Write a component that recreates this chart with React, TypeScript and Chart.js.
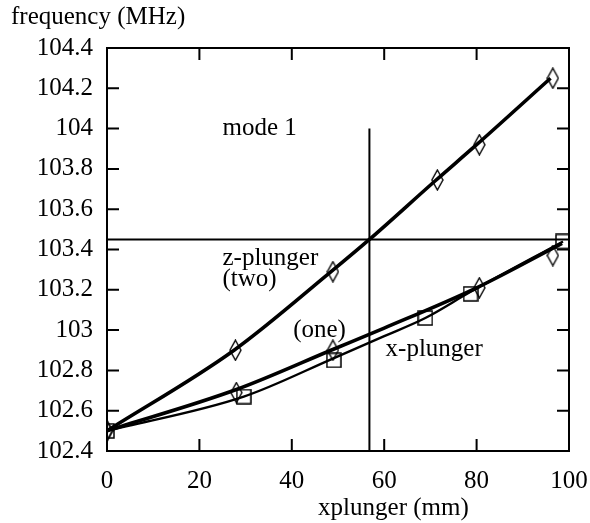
import React, { useEffect, useRef } from "react";
import { Chart, registerables } from "chart.js";

Chart.register(...registerables);

// ---- data ----
const X_TICKS = [0, 20, 40, 60, 80, 100];
const X_TICK_LABELS = ["0", "20", "40", "60", "80", "100"];
const Y_TICKS = [102.4, 102.6, 102.8, 103, 103.2, 103.4, 103.6, 103.8, 104, 104.2, 104.4];
const Y_TICK_LABELS = ["102.4", "102.6", "102.8", "103", "103.2", "103.4", "103.6", "103.8", "104", "104.2", "104.4"];

// z-plunger measured points (diamonds, upper curve)
const Z_PTS_X = [0, 27.8, 48.9, 71.5, 80.6, 96.5];
const Z_PTS_Y = [102.5, 102.9, 103.29, 103.745, 103.92, 104.25];
// lower diamonds
const ONE_PTS_X = [0, 28, 48.9, 80.6, 96.5];
const ONE_PTS_Y = [102.5, 102.69, 102.9, 103.21, 103.37];
// x-plunger squares
const XP_PTS_X = [0, 29.6, 49.1, 68.9, 78.7, 98.7];
const XP_PTS_Y = [102.5, 102.67, 102.85, 103.06, 103.18, 103.44];

// fitted curves
const Z_FIT_X = [0, 27.5, 48.5, 56.8, 71, 80, 96];
const Z_FIT_Y = [102.5, 102.9, 103.29, 103.45, 103.74, 103.92, 104.25];
const ONE_FIT_X = [0, 28, 49, 60, 80, 98.5];
const ONE_FIT_Y = [102.5, 102.705, 102.905, 103.01, 103.21, 103.43];
const XP_FIT_X = [0, 29.6, 49, 60, 68.9, 78.7, 98.7];
const XP_FIT_Y = [102.5, 102.67, 102.86, 102.97, 103.06, 103.19, 103.44];

// reference cross lines
const H_LINE_X = [0, 100];
const H_LINE_Y = [103.45, 103.45];
const V_LINE_X = [56.8, 56.8];
const V_LINE_Y = [102.4, 104.0];

// annotations (data coordinates)
const NOTE_TEXT = ["mode 1", "z-plunger", "(two)", "(one)", "x-plunger"];
const NOTE_X = [25, 25, 25, 40.3, 60.3];
const NOTE_Y = [104.0, 103.355, 103.25, 103.0, 102.905];

const Y_TITLE = "frequency (MHz)";
const X_TITLE = "xplunger (mm)";
const X_TITLE_AT = 62;

const FONT_FAMILY = "'Liberation Serif', 'Times New Roman', serif";
const FONT_SIZE = 25;

const zip = (xs: number[], ys: number[]) => xs.map((x, i) => ({ x, y: ys[i] }));

function makeDiamond(): HTMLCanvasElement {
  const c = document.createElement("canvas");
  c.width = 13;
  c.height = 22;
  const g = c.getContext("2d")!;
  g.strokeStyle = "#000";
  g.lineWidth = 1.4;
  g.beginPath();
  g.moveTo(6.5, 1);
  g.lineTo(12, 11);
  g.lineTo(6.5, 21);
  g.lineTo(1, 11);
  g.closePath();
  g.stroke();
  return c;
}

function makeSquare(): HTMLCanvasElement {
  const c = document.createElement("canvas");
  c.width = 16;
  c.height = 16;
  const g = c.getContext("2d")!;
  g.strokeStyle = "#000";
  g.lineWidth = 1.5;
  g.strokeRect(1, 1, 14, 14);
  return c;
}

const framePlugin = {
  id: "frame",
  afterDatasetsDraw(chart: any) {
    const { ctx, chartArea, scales } = chart;
    const { left, right, top, bottom } = chartArea;
    const xs = scales.x;
    const ys = scales.y;
    ctx.save();
    ctx.strokeStyle = "#000";
    ctx.lineWidth = 2;
    ctx.strokeRect(left, top, right - left, bottom - top);
    const TL = 12;
    ctx.beginPath();
    X_TICKS.forEach((v) => {
      const px = xs.getPixelForValue(v);
      ctx.moveTo(px, bottom);
      ctx.lineTo(px, bottom - TL);
      ctx.moveTo(px, top);
      ctx.lineTo(px, top + TL);
    });
    Y_TICKS.forEach((v) => {
      const py = ys.getPixelForValue(v);
      ctx.moveTo(left, py);
      ctx.lineTo(left + TL, py);
      ctx.moveTo(right, py);
      ctx.lineTo(right - TL, py);
    });
    ctx.stroke();

    ctx.fillStyle = "#000";
    ctx.font = `${FONT_SIZE}px ${FONT_FAMILY}`;
    ctx.textAlign = "left";
    ctx.textBaseline = "middle";
    NOTE_TEXT.forEach((t, i) => {
      ctx.fillText(t, xs.getPixelForValue(NOTE_X[i]), ys.getPixelForValue(NOTE_Y[i]));
    });
    // y axis title, horizontal, top-left
    ctx.fillText(Y_TITLE, left - 96, top - 31);
    // x axis title
    ctx.textAlign = "center";
    ctx.fillText(X_TITLE, xs.getPixelForValue(X_TITLE_AT), bottom + 57);
    ctx.restore();
  },
};

export default function App() {
  const ref = useRef<HTMLCanvasElement>(null);

  useEffect(() => {
    const canvas = ref.current!;
    const diamond = makeDiamond();
    const square = makeSquare();
    const lineDs = (data: any[], width: number) => ({
      data,
      showLine: true,
      borderColor: "#000",
      borderWidth: width,
      pointRadius: 0,
      pointHoverRadius: 0,
      cubicInterpolationMode: "monotone" as const,
      fill: false,
    });
    const ptDs = (data: any[], style: HTMLCanvasElement) => ({
      data,
      showLine: false,
      pointStyle: style,
      pointRadius: 8,
      borderColor: "#000",
      backgroundColor: "transparent",
    });

    const chart = new Chart(canvas, {
      type: "scatter",
      data: {
        datasets: [
          lineDs(zip(Z_FIT_X, Z_FIT_Y), 3.6),
          lineDs(zip(ONE_FIT_X, ONE_FIT_Y), 3.6),
          lineDs(zip(XP_FIT_X, XP_FIT_Y), 2.4),
          lineDs(zip(H_LINE_X, H_LINE_Y), 2),
          lineDs(zip(V_LINE_X, V_LINE_Y), 2),
          ptDs(zip(Z_PTS_X, Z_PTS_Y), diamond),
          ptDs(zip(ONE_PTS_X, ONE_PTS_Y), diamond),
          ptDs(zip(XP_PTS_X, XP_PTS_Y), square),
        ] as any,
      },
      options: {
        animation: false,
        responsive: false,
        devicePixelRatio: 1,
        events: [],
        layout: { padding: { left: 0, right: 21, top: 48, bottom: 0 } },
        plugins: {
          legend: { display: false },
          tooltip: { enabled: false },
          title: { display: false },
        },
        scales: {
          x: {
            type: "linear",
            min: 0,
            max: 100,
            grid: { display: false, drawTicks: false },
            border: { display: false },
            afterBuildTicks: (s: any) => {
              s.ticks = X_TICKS.map((v) => ({ value: v }));
            },
            afterFit: (s: any) => {
              s.height = 72;
              s.paddingLeft = 0;
              s.paddingRight = 0;
            },
            ticks: {
              color: "#000",
              padding: 15,
              maxRotation: 0,
              font: { family: FONT_FAMILY, size: FONT_SIZE },
              callback: (_v: any, i: number) => X_TICK_LABELS[i],
            },
          },
          y: {
            type: "linear",
            min: 102.4,
            max: 104.4,
            grid: { display: false, drawTicks: false },
            border: { display: false },
            afterBuildTicks: (s: any) => {
              s.ticks = Y_TICKS.map((v) => ({ value: v }));
            },
            afterFit: (s: any) => {
              s.width = 107;
              s.paddingTop = 0;
              s.paddingBottom = 0;
            },
            ticks: {
              color: "#000",
              padding: 14,
              font: { family: FONT_FAMILY, size: FONT_SIZE },
              callback: (_v: any, i: number) => Y_TICK_LABELS[i],
            },
          },
        },
      },
      plugins: [framePlugin],
    });
    return () => chart.destroy();
  }, []);

  return (
    <div style={{ position: "absolute", left: 0, top: 0, width: 590, height: 523, background: "#fff" }}>
      <canvas ref={ref} width={590} height={523} style={{ display: "block", width: 590, height: 523 }} />
    </div>
  );
}
